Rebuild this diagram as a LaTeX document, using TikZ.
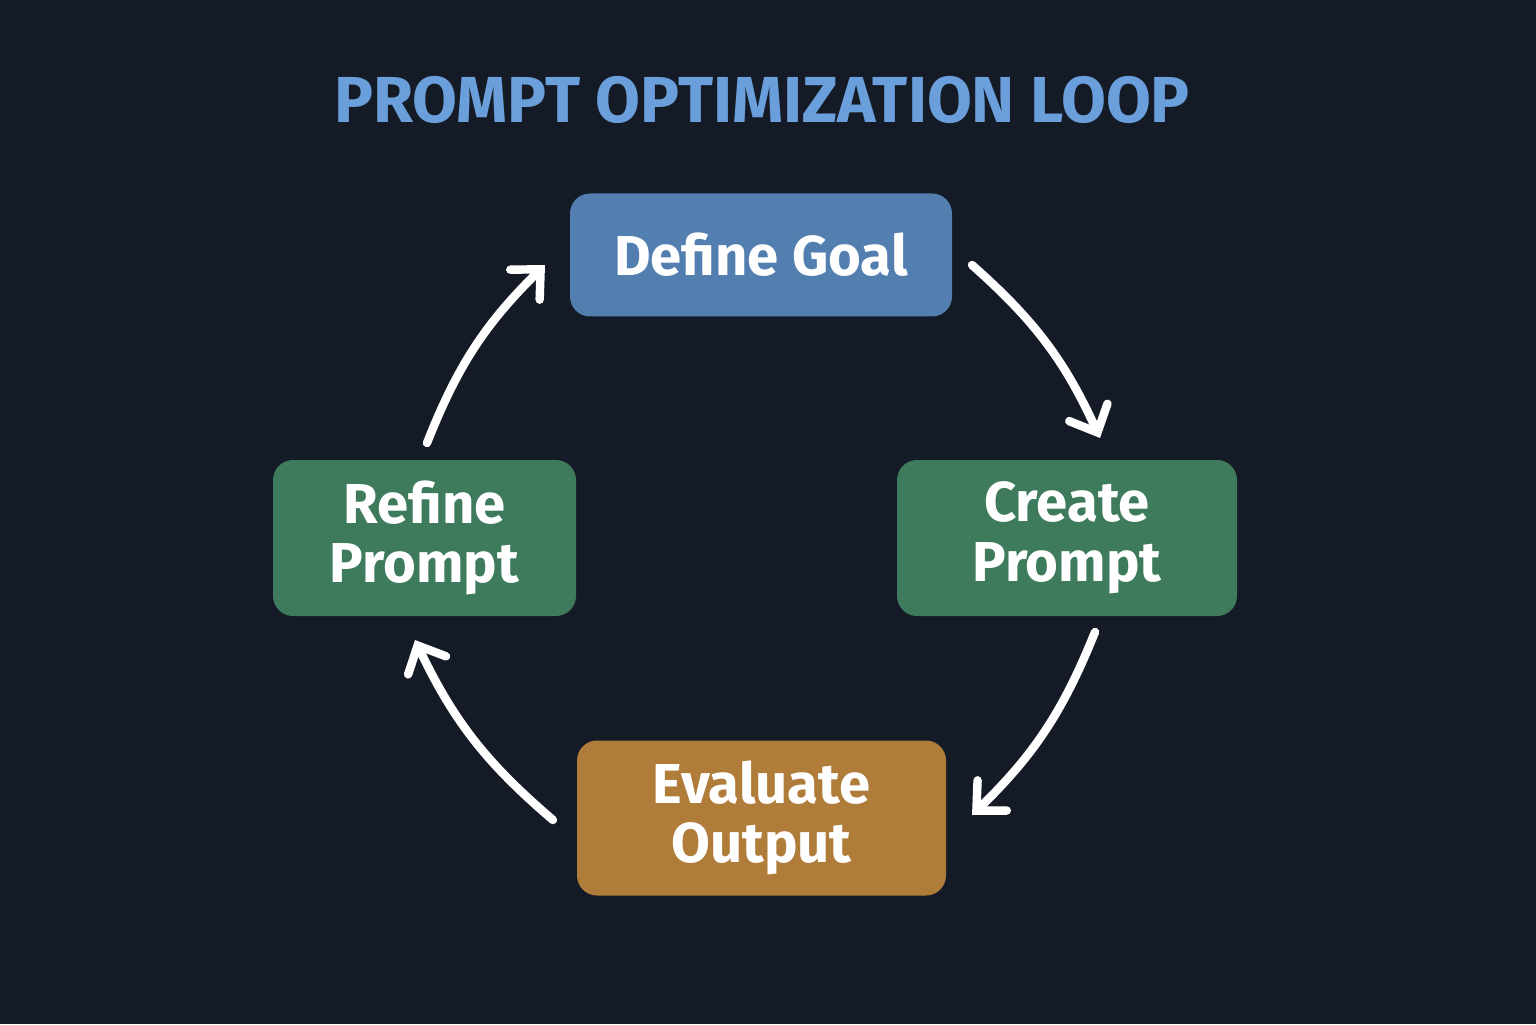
\documentclass[tikz,border=0pt]{standalone}
\usepackage{fontspec}
\setmainfont{Fira Sans}
\usetikzlibrary{arrows.meta, positioning}
\definecolor{bgdark}{HTML}{151B26}
\definecolor{titleblue}{HTML}{6A9FDB}
\definecolor{goalblue}{HTML}{527FB0}
\definecolor{stepgreen}{HTML}{3E7A5C}
\definecolor{evalorange}{HTML}{B07C3A}
\tikzset{
    stepbox/.style={
        rectangle,
        rounded corners=0.2cm,
        draw=none,
        text=white,
        align=center,
        font=\fontsize{16}{17}\selectfont\bfseries
    },
    cyclearrow/.style={
        draw=white,
        line width=2.4pt,
        line cap=round,
        -{Straight Barb[length=0.22cm, width=0.42cm, line cap=round]}
    }
}
\begin{document}
\begin{tikzpicture}
\fill[bgdark] (0,0) rectangle (15.36,10.24);
\useasboundingbox (0,0) rectangle (15.36,10.24);

% Title
\node[text=titleblue, font=\fontsize{18.5}{20}\selectfont\bfseries] (title) at (7.62,9.24) {PROMPT OPTIMIZATION LOOP};

% Steps
\node[stepbox, fill=goalblue, minimum width=3.82cm, minimum height=1.23cm] (goal) at (7.61,7.69) {Define Goal};
\node[stepbox, fill=stepgreen, minimum width=3.40cm, minimum height=1.56cm] (create) at (10.67,4.86) {Create\\Prompt};
\node[stepbox, fill=evalorange, minimum width=3.69cm, minimum height=1.55cm] (eval) at (7.615,2.06) {Evaluate\\Output};
\node[stepbox, fill=stepgreen, minimum width=3.03cm, minimum height=1.56cm] (refine) at (4.245,4.86) {Refine\\Prompt};

% Arrow ends
\coordinate (a1s) at (9.72,7.59);
\coordinate (a1e) at (11.00,5.86);
\coordinate (a2s) at (10.95,3.92);
\coordinate (a2e) at (9.72,2.09);
\coordinate (a3s) at (5.53,2.04);
\coordinate (a3e) at (4.15,3.84);
\coordinate (a4s) at (4.27,5.81);
\coordinate (a4e) at (5.45,7.59);

\draw[cyclearrow] (a1s) to[bend left=12] (a1e);
\draw[cyclearrow] (a2s) to[bend left=12] (a2e);
\draw[cyclearrow] (a3s) to[bend left=12] (a3e);
\draw[cyclearrow] (a4s) to[bend left=12] (a4e);
\end{tikzpicture}
\end{document}
